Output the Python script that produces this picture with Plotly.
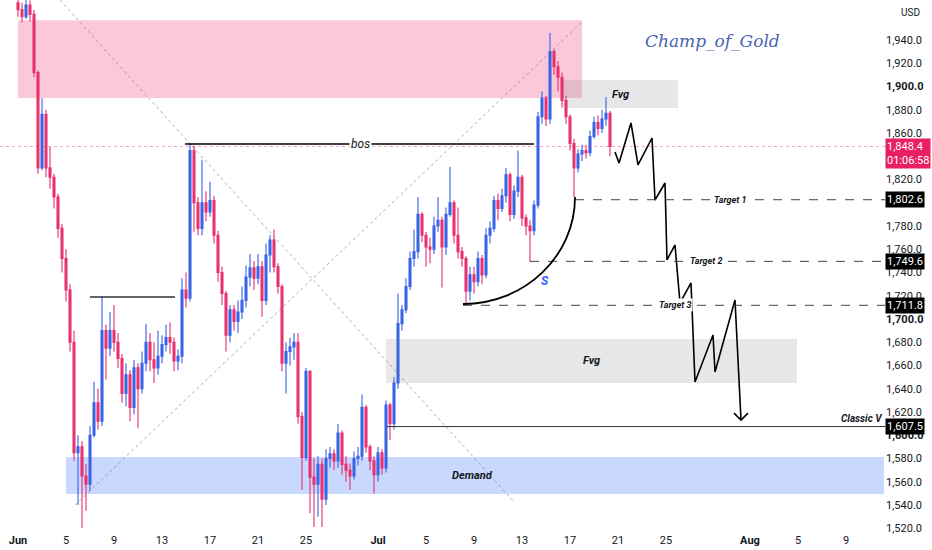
import plotly.graph_objects as go
import pandas as pd

# 8h candles, first bar on Jun 1 00:00
first_open = 1972
closes = [1966, 1960, 1970, 1962, 1912, 1830, 1876, 1830, 1822, 1805,
          1778, 1752, 1725, 1680, 1585, 1590, 1565, 1558, 1600, 1628,
          1612, 1690, 1675, 1690, 1680, 1666, 1636, 1652, 1624, 1658,
          1640, 1662, 1680, 1665, 1658, 1668, 1678, 1684, 1680, 1664,
          1668, 1725, 1718, 1845, 1800, 1778, 1800, 1792, 1802, 1772,
          1740, 1722, 1686, 1708, 1698, 1706, 1716, 1736, 1744, 1735,
          1745, 1716, 1755, 1768, 1745, 1728, 1662, 1672, 1676, 1680,
          1616, 1581, 1655, 1564, 1558, 1575, 1545, 1580, 1584, 1578,
          1602, 1575, 1570, 1565, 1580, 1582, 1624, 1590, 1578, 1566,
          1585, 1572, 1626, 1610, 1645, 1696, 1708, 1728, 1752, 1758,
          1790, 1772, 1762, 1760, 1780, 1785, 1762, 1790, 1800, 1772,
          1758, 1752, 1724, 1738, 1732, 1752, 1738, 1772, 1778, 1802,
          1795, 1806, 1824, 1790, 1810, 1822, 1787, 1780, 1776, 1798,
          1874, 1890, 1872, 1930, 1917, 1908, 1888, 1874, 1851, 1830,
          1842, 1845, 1843, 1857, 1869, 1864, 1872, 1877, 1848.4]
highs = [1980, 1972, 1976, 1974, 1966, 1914, 1890, 1880, 1848, 1825,
         1808, 1782, 1760, 1730, 1690, 1600, 1595, 1575, 1608, 1646,
         1640, 1720, 1695, 1706, 1712, 1688, 1670, 1662, 1656, 1665,
         1662, 1672, 1696, 1688, 1680, 1690, 1686, 1695, 1697, 1684,
         1674, 1735, 1740, 1851, 1849, 1805, 1837, 1810, 1818, 1806,
         1776, 1745, 1724, 1712, 1712, 1716, 1728, 1746, 1756, 1750,
         1756, 1750, 1765, 1772, 1777, 1748, 1730, 1680, 1684, 1688,
         1688, 1620, 1658, 1656, 1580, 1582, 1580, 1588, 1590, 1588,
         1610, 1604, 1582, 1576, 1586, 1590, 1635, 1626, 1592, 1582,
         1590, 1588, 1630, 1628, 1650, 1722, 1712, 1735, 1758, 1777,
         1805, 1792, 1775, 1770, 1788, 1805, 1788, 1796, 1831, 1802,
         1796, 1762, 1754, 1745, 1745, 1758, 1755, 1778, 1784, 1806,
         1808, 1812, 1830, 1826, 1815, 1845, 1824, 1790, 1785, 1802,
         1878, 1896, 1892, 1946, 1932, 1922, 1912, 1892, 1876, 1855,
         1846, 1850, 1850, 1862, 1874, 1875, 1880, 1891, 1879]
lows = [1960, 1955, 1958, 1956, 1908, 1825, 1828, 1822, 1812, 1795,
        1770, 1740, 1715, 1672, 1578, 1540, 1520, 1535, 1552, 1598,
        1605, 1608, 1648, 1668, 1672, 1658, 1628, 1625, 1612, 1618,
        1606, 1636, 1655, 1655, 1645, 1652, 1662, 1672, 1670, 1655,
        1656, 1662, 1710, 1715, 1775, 1772, 1772, 1784, 1788, 1765,
        1732, 1712, 1672, 1680, 1690, 1688, 1700, 1710, 1728, 1725,
        1730, 1702, 1712, 1740, 1740, 1722, 1655, 1636, 1660, 1665,
        1610, 1553, 1578, 1533, 1521, 1530, 1521, 1540, 1572, 1570,
        1572, 1566, 1560, 1553, 1562, 1574, 1578, 1585, 1570, 1550,
        1560, 1566, 1568, 1596, 1605, 1640, 1690, 1705, 1725, 1745,
        1752, 1766, 1745, 1748, 1756, 1775, 1727, 1755, 1788, 1765,
        1752, 1745, 1714, 1716, 1722, 1728, 1730, 1735, 1765, 1775,
        1785, 1792, 1800, 1784, 1786, 1805, 1780, 1772, 1749, 1772,
        1795, 1868, 1866, 1868, 1910, 1896, 1882, 1868, 1845, 1805,
        1826, 1836, 1838, 1840, 1855, 1858, 1860, 1866, 1840]
last_price = 1848.4
countdown = "01:06:58"

# drawn zones: start, end, low, high
supply_zone = ["2023-06-01 00:00", "2023-07-18 00:00", 1890.0, 1957.0]
demand_zone = ["2023-06-05 00:00", "2023-08-12 04:00", 1549.5, 1581.3]
fvg_upper = ["2023-07-16 10:00", "2023-07-26 00:00", 1881.5, 1905.6]
fvg_lower = ["2023-07-01 16:00", "2023-08-04 22:00", 1645.0, 1682.8]

# horizontal levels: start, end, price
bos_level = ["2023-06-14 22:00", "2023-07-14 00:00", 1850.5]
range_high = ["2023-06-07 00:00", "2023-06-14 02:00", 1719.0]
target_names = ["Target 1", "Target 2", "Target 3"]
target_starts = ["2023-07-17 10:00", "2023-07-13 16:00", "2023-07-08 02:00"]
target_prices = [1802.6, 1749.6, 1711.8]
target_label_at = ["2023-07-30 08:00", "2023-07-28 08:00", "2023-07-25 18:00"]
classic_v = ["2023-07-01 18:00", 1607.5]

# crossing guide lines
guide_a = [["2023-06-04 12:00", 1974.4], ["2023-07-12 10:00", 1541.7]]
guide_b = [["2023-06-05 18:00", 1540.0], ["2023-07-18 00:00", 1955.5]]

# curved path under the lows
arc_start = ["2023-07-08 02:00", 1712.9]
arc_end = ["2023-07-17 10:00", 1805.0]

# projected path (hand drawn zig zag)
proj_times = ["2023-07-20 18:00", "2023-07-21 02:00", "2023-07-22 02:00", "2023-07-22 16:00",
              "2023-07-23 20:00", "2023-07-24 02:00", "2023-07-24 22:00", "2023-07-25 02:00",
              "2023-07-25 18:00", "2023-07-26 04:00", "2023-07-27 02:00", "2023-07-27 10:00",
              "2023-07-28 22:00", "2023-07-29 02:00", "2023-07-30 18:00", "2023-07-31 06:00"]
proj_prices = [1843.7, 1834.2, 1868.6, 1832.5, 1855.7, 1802.4, 1817.0, 1750.8,
               1763.7, 1713.8, 1731.0, 1645.8, 1686.2, 1654.4, 1716.3, 1613.1]
arrow_head_times = ["2023-07-30 16:00", "2023-07-31 06:00", "2023-07-31 20:00"]
arrow_head_prices = [1619.1, 1613.1, 1619.1]

tick_days = ["2023-06-01", "2023-06-05", "2023-06-09", "2023-06-13", "2023-06-17",
             "2023-06-21", "2023-06-25", "2023-07-01", "2023-07-05", "2023-07-09",
             "2023-07-13", "2023-07-17", "2023-07-21", "2023-07-25", "2023-08-01",
             "2023-08-05", "2023-08-09"]
tick_names = ["<b>Jun</b>", "5", "9", "13", "17", "21", "25", "<b>Jul</b>", "5", "9",
              "13", "17", "21", "25", "<b>Aug</b>", "5", "9"]
# 1,800 and 1,840 sit under the price tags
price_ticks = [1520, 1540, 1560, 1580, 1600, 1620, 1640, 1660, 1680, 1700, 1720,
               1740, 1760, 1780, 1820, 1860, 1880, 1900, 1920, 1940]

origin = pd.Timestamp("2023-06-01")


def day(t):
    return (pd.Timestamp(t) - origin) / pd.Timedelta(days=1)


bar_times = pd.date_range("2023-06-01", periods=len(closes), freq="8h")
bar_x = [day(t) for t in bar_times]
opens = [first_open] + closes[:-1]

UP = "#3a63e8"
DOWN = "#e8306e"
X_END = 72.25

fig = go.Figure()
fig.add_trace(go.Candlestick(
    x=bar_x, open=opens, high=highs, low=lows, close=closes,
    increasing=dict(line=dict(color=UP, width=1.1), fillcolor=UP),
    decreasing=dict(line=dict(color=DOWN, width=1.1), fillcolor=DOWN),
    hoverinfo="skip"))

# zones
for zone, color in [(supply_zone, "rgba(240,98,146,0.35)"),
                    (demand_zone, "rgba(41,98,255,0.25)"),
                    (fvg_upper, "rgba(120,120,120,0.18)"),
                    (fvg_lower, "rgba(120,120,120,0.18)")]:
    fig.add_shape(type="rect", x0=day(zone[0]), x1=day(zone[1]), y0=zone[2], y1=zone[3],
                  fillcolor=color, line_width=0, layer="below")

# guide lines
for g in [guide_a, guide_b]:
    fig.add_shape(type="line", x0=day(g[0][0]), y0=g[0][1], x1=day(g[1][0]), y1=g[1][1],
                  line=dict(color="rgba(110,110,110,0.7)", width=0.8, dash="dot"))

# levels
fig.add_shape(type="line", x0=day(bos_level[0]), x1=day(bos_level[1]), y0=bos_level[2], y1=bos_level[2],
              line=dict(color="#000", width=1.5))
fig.add_shape(type="line", x0=day(range_high[0]), x1=day(range_high[1]), y0=range_high[2], y1=range_high[2],
              line=dict(color="#333", width=1.5))
for s, p in zip(target_starts, target_prices):
    fig.add_shape(type="line", x0=day(s), x1=X_END, y0=p, y1=p,
                  line=dict(color="#444", width=1, dash="dash"))
fig.add_shape(type="line", x0=day(classic_v[0]), x1=X_END, y0=classic_v[1], y1=classic_v[1],
              line=dict(color="#333", width=1))
fig.add_shape(type="line", x0=-1.5, x1=X_END, y0=last_price, y1=last_price,
              line=dict(color="rgba(233,30,99,0.5)", width=0.8, dash="dot"))

# arc (quarter ellipse as cubic bezier)
ax0, ay0 = day(arc_start[0]), arc_start[1]
ax1, ay1 = day(arc_end[0]), arc_end[1]
k = 0.5523
fig.add_shape(type="path",
              path=f"M {ax0},{ay0} C {ax0 + k * (ax1 - ax0)},{ay0} {ax1},{ay1 - k * (ay1 - ay0)} {ax1},{ay1}",
              line=dict(color="#000", width=1.8))

# projection
fig.add_trace(go.Scatter(x=[day(t) for t in proj_times], y=proj_prices, mode="lines",
                         line=dict(color="#000", width=1.6), hoverinfo="skip"))
fig.add_trace(go.Scatter(x=[day(t) for t in arrow_head_times], y=arrow_head_prices, mode="lines",
                         line=dict(color="#000", width=1.6), hoverinfo="skip"))

# texts
def label(x, y, text, size=10, bg=None, color="#131722"):
    fig.add_annotation(x=x, y=y, text=text, showarrow=False,
                       font=dict(size=size, color=color, family="Roboto"),
                       bgcolor=bg, borderpad=1)


label(28.5, bos_level[2], "<i>bos</i>", size=12, bg="white")
for n, p, at in zip(target_names, target_prices, target_label_at):
    label(day(at), p, f"<b><i>{n}</i></b>", size=9, bg="white")
label(50.17, 1893.5, "<b><i>Fvg</i></b>", size=11)
label(47.75, 1663.9, "<b><i>Fvg</i></b>", size=11)
label(37.9, 1565.8, "<b><i>Demand</i></b>", size=11)
label(70.33, 1614.5, "<b><i>Classic V</i></b>", size=10)
label(43.9, 1732.7, "<b><i>S</i></b>", size=12, color="#2962ff")
fig.add_annotation(x=57.9, y=1939, text="<i>Champ_of_Gold</i>", showarrow=False,
                   font=dict(size=17, color="#4a64b0", family="DejaVu Serif"))
fig.add_annotation(xref="paper", yref="paper", x=1, xanchor="left", xshift=14, y=1, yshift=-12,
                   yanchor="middle", text="USD", showarrow=False,
                   font=dict(size=10, color="#131722", family="Roboto"))

# price tags
for p in target_prices + [classic_v[1]]:
    fig.add_annotation(xref="paper", x=1, xanchor="left", y=p, yref="y", text=f"{p:,.1f}",
                       showarrow=False, bgcolor="#000", borderpad=1,
                       font=dict(size=11, color="white", family="Roboto"))
fig.add_annotation(xref="paper", x=1, xanchor="left", y=last_price, yref="y", yanchor="top", yshift=8,
                   text=f"{last_price:,.1f}<br>{countdown}", showarrow=False, bgcolor="#e91e63",
                   borderpad=1, align="left", font=dict(size=11, color="white", family="Roboto"))

fig.update_layout(
    width=932, height=550,
    margin=dict(l=0, r=47, t=0, b=18),
    paper_bgcolor="white", plot_bgcolor="white",
    showlegend=False,
    font=dict(family="Roboto", size=11, color="#131722"),
    xaxis=dict(range=[-1.5, X_END], tickvals=[day(t) for t in tick_days], ticktext=tick_names,
               showgrid=False, zeroline=False, showline=False, ticks="",
               rangeslider=dict(visible=False), fixedrange=True),
    yaxis=dict(side="right", range=[1516.8, 1974.4], tickvals=price_ticks,
               ticktext=[f"<b>{v:,.1f}</b>" if v in (1900, 1700, 1600) else f"{v:,.1f}" for v in price_ticks],
               showgrid=False, zeroline=False, showline=False, ticks="", fixedrange=True),
)

fig.write_html("out.html", config={"displayModeBar": False},
               post_script="document.body.style.margin='0';")
